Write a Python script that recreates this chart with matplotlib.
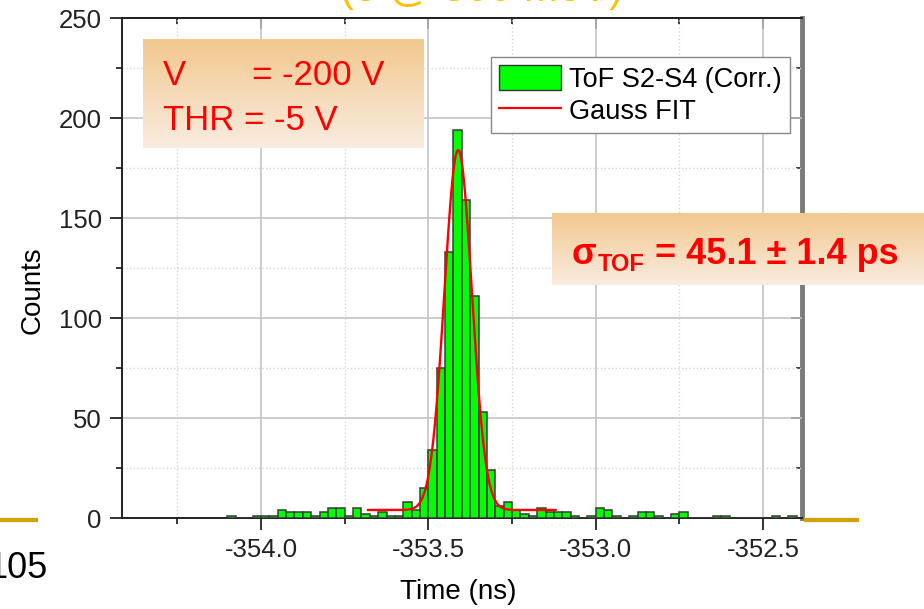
import numpy as np
import matplotlib
matplotlib.use("Agg")
import matplotlib.pyplot as plt
from matplotlib.ticker import MultipleLocator, FormatStrFormatter
from matplotlib.patches import Patch
from matplotlib.lines import Line2D

plt.rcParams['font.family'] = ['Liberation Sans', 'DejaVu Sans']
plt.rcParams['axes.unicode_minus'] = False

#%% Data
bin_width = 0.025   # ns
first_bin = -354.100  # left edge of the first bin
counts = [1, 0, 0, 1,                      # -354.100 .. -354.025
          1, 1, 4, 3, 3, 3, 1, 3, 5, 5,    # -354.000 .. -353.775
          1, 5, 2, 1, 3, 1, 1,             # -353.750 .. -353.600
          8, 4, 15, 34, 75, 133, 194, 159, 111, 53, 24,  # peak
          6, 8, 4, 2, 1, 5, 3, 3, 3, 1, 0, 1,            # -353.300 .. -353.025
          5, 4, 1, 0, 1, 3, 3, 1, 0, 2, 3, 0,            # -353.000 .. -352.725
          0, 0, 1, 1, 0, 0, 0, 0, 0, 1, 0, 1]            # -352.700 .. -352.425

# Gauss fit as drawn
fit_offset = 4.0
fit_amp = 180.0
fit_center = -353.411
fit_sigma = 0.041
fit_range = [-353.68, -353.12]

x_ticks = [-354.0, -353.5, -353.0, -352.5]
y_ticks = [0, 50, 100, 150, 200, 250]
x_lim = [-354.415, -352.384]
y_lim = [0, 250]

hist_label = "ToF S2-S4 (Corr.)"
fit_label = "Gauss FIT"

#%% Figure, pixel helpers
W, H = 924, 609
fig = plt.figure(figsize=(W / 100, H / 100), dpi=100)

def fx(px):
    return px / W

def fy(py):
    return 1 - py / H

ax = fig.add_axes([fx(122), fy(518), fx(802) - fx(122), fy(18) - fy(518)])

edges = first_bin + bin_width * np.arange(len(counts))
ax.bar(edges, counts, width=bin_width, align='edge', color='#00ff00',
       edgecolor='#3a3a3a', lw=1.1, zorder=3)

t = np.linspace(fit_range[0], fit_range[1], 400)
ax.plot(t, fit_offset + fit_amp * np.exp(-0.5 * ((t - fit_center) / fit_sigma) ** 2),
        color='red', lw=1.7, zorder=4)

ax.set_xlim(x_lim)
ax.set_ylim(y_lim)
ax.set_xticks(x_ticks)
ax.set_yticks(y_ticks)
ax.xaxis.set_major_formatter(FormatStrFormatter('%.1f'))
ax.xaxis.set_minor_locator(MultipleLocator(0.25))
ax.yaxis.set_minor_locator(MultipleLocator(25))
ax.grid(which='major', color='#c4c4c4', lw=1.2)
ax.grid(which='minor', color='#d6d6d6', lw=1.0, ls=':')
ax.set_axisbelow(True)

ax.tick_params(which='major', direction='out', length=8.5, width=1.3,
               labelsize=18.5, pad=6, colors='#222222')
ax.tick_params(which='minor', direction='out', length=4.5, width=1.1)
for s in ['left', 'bottom', 'top']:
    ax.spines[s].set_color('#222222')
    ax.spines[s].set_linewidth(1.4)
ax.spines['right'].set_visible(False)

# mirrored inward ticks on top and right
secx = ax.secondary_xaxis('top')
secx.set_xticks(x_ticks)
secx.xaxis.set_minor_locator(MultipleLocator(0.25))
secx.tick_params(which='major', direction='in', length=8, width=1.3, labeltop=False)
secx.tick_params(which='minor', direction='in', length=4.5, width=1.1)
secx.spines['top'].set_color('#222222')
secx.spines['top'].set_linewidth(1.4)

secy = ax.secondary_yaxis('right')
secy.set_yticks(y_ticks)
secy.yaxis.set_minor_locator(MultipleLocator(25))
secy.tick_params(which='major', direction='in', length=8, width=1.3, labelright=False)
secy.tick_params(which='minor', direction='in', length=4.5, width=1.1)
secy.spines['right'].set_color('#7a7a7a')
secy.spines['right'].set_linewidth(3.5)

fig.text(fx(33), fy(290), "Counts", rotation=90, ha='center', va='center', fontsize=20)
fig.text(fx(458), fy(592), "Time (ns)", ha='center', va='center', fontsize=20)

handles = [Patch(facecolor='#00ff00', edgecolor='#333333', lw=1.0),
           Line2D([], [], color='red', lw=1.6)]
leg = ax.legend(handles, [hist_label, fit_label], loc='upper right',
                bbox_to_anchor=(fx(790), fy(57)), bbox_transform=fig.transFigure,
                fontsize=19.5, frameon=True, fancybox=False, framealpha=1,
                edgecolor='#888888', borderpad=0.3, borderaxespad=0,
                handlelength=2.3, handleheight=1.05, handletextpad=0.3,
                labelspacing=0.15)
leg.get_frame().set_linewidth(1.0)

#%% Slide overlays: gradient boxes with red text
def grad_box(x0, y0, x1, y1):
    bax = fig.add_axes([fx(x0), fy(y1), fx(x1) - fx(x0), fy(y0) - fy(y1)])
    top = np.array([242, 200, 142]) / 255
    bot = np.array([249, 236, 224]) / 255
    g = np.linspace(0, 1, 64)[:, None, None]
    bax.imshow(top * (1 - g) + bot * g, aspect='auto', interpolation='bilinear')
    bax.axis('off')
    return bax

grad_box(143, 39, 424, 148)
fig.text(fx(163), fy(85), "V", color='red', fontsize=25, va='baseline')
fig.text(fx(252), fy(85), "= -200 V", color='red', fontsize=25, va='baseline')
fig.text(fx(163), fy(130), "THR = -5 V", color='red', fontsize=25, va='baseline')

grad_box(552, 213, 924, 285)
fig.text(fx(572), fy(264), "σ", color='red', fontsize=26, fontweight='bold', va='baseline')
fig.text(fx(598), fy(271), "TOF", color='red', fontsize=17, fontweight='bold', va='baseline')
fig.text(fx(655), fy(264), "= 45.1 ± 1.4 ps", color='red', fontsize=26,
         fontweight='bold', va='baseline')

# slide decorations (title cut off at the top, footer line, page number)
fig.add_artist(Line2D([fx(0), fx(36)], [fy(520), fy(520)], color='#D4A20A', lw=3,
                      transform=fig.transFigure))
fig.add_artist(Line2D([fx(806), fx(857)], [fy(520), fy(520)], color='#D4A20A', lw=3,
                      transform=fig.transFigure))
fig.text(fx(-13), fy(578), "105", fontsize=26, va='baseline')
fig.text(fx(340), fy(1), "(e @ 500 MeV)", fontsize=30, color='#FFC000', va='baseline')

fig.savefig("out.png", dpi=100)
